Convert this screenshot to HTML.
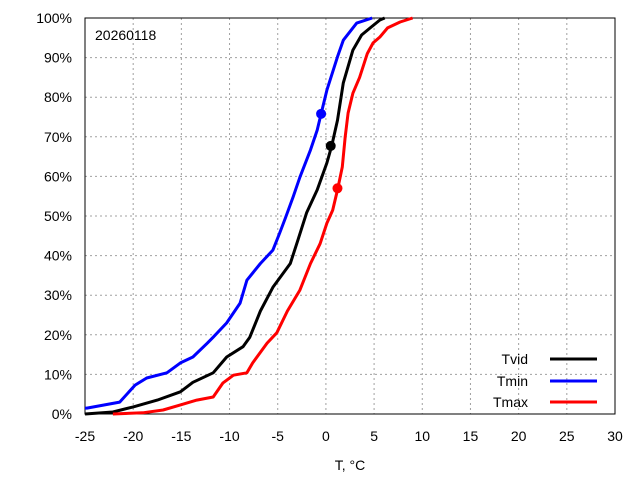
<!DOCTYPE html>
<html><head><meta charset="utf-8"><style>body{margin:0;background:#fff}svg{display:block;font-family:"Liberation Sans",sans-serif}</style></head>
<body>
<svg id="chart" width="640" height="480">
<rect width="640" height="480" fill="#fff"/>
<g id="grid"></g><g id="axes"></g><g id="series"></g>
<text x="95" y="40" font-size="14" fill="#000">20260118</text>
<text x="350" y="470" font-size="14" text-anchor="middle">T, °C</text>
<g>
<text x="528" y="364" font-size="14" text-anchor="end">Tvid</text>
<line x1="550" y1="359" x2="597" y2="359" stroke="#000" stroke-width="3"/>
<text x="528" y="386" font-size="14" text-anchor="end">Tmin</text>
<line x1="550" y1="381" x2="597" y2="381" stroke="#0000ff" stroke-width="3"/>
<text x="528" y="407" font-size="14" text-anchor="end">Tmax</text>
<line x1="550" y1="402" x2="597" y2="402" stroke="#ff0000" stroke-width="3"/>
</g>
</svg>
<script>
const xTicks=[-25,-20,-15,-10,-5,0,5,10,15,20,25,30];
const yTicks=[0,10,20,30,40,50,60,70,80,90,100];
const tminT=[-25,-24.8,-21.4,-19.8,-18.6,-16.5,-15.1,-13.8,-12.3,-11.7,-10.3,-8.9,-8.2,-6.8,-5.5,-4.8,-4.2,-3.4,-2.7,-1.6,-0.9,-0.5,0.1,1.2,1.8,3.2,4.8];
const tminP=[1.5,1.5,3,7.3,9.1,10.4,12.9,14.4,17.9,19.4,23,28,33.8,38,41.4,45.7,49.5,54.8,59.8,66.7,71.7,75.8,81.8,90.2,94.4,98.7,100];
const tvidT=[-25,-22.1,-20,-17.5,-15.1,-13.8,-11.7,-10.3,-8.6,-7.9,-6.8,-5.5,-3.7,-2.9,-2.0,-0.9,0.1,0.6,1.2,1.8,2.2,2.8,3.7,4.6,5.6,6.1];
const tvidP=[0,0.5,1.8,3.5,5.6,8,10.4,14.4,17,19.4,26,32,38,44,50.8,56.6,63.4,67.7,74.2,83.6,86.9,91.9,95.7,97.5,99.5,100];
const tmaxT=[-22.1,-19,-16.9,-15.1,-13.4,-11.7,-10.7,-9.6,-8.2,-7.6,-6.1,-5.1,-4.0,-2.7,-1.6,-0.6,0.1,0.7,1.2,1.7,2.0,2.3,2.8,3.5,4.3,4.9,5.6,6.4,7.7,9.0];
const tmaxP=[0,0.3,1,2.3,3.5,4.3,7.8,9.8,10.4,12.9,17.9,20.5,26,31.3,38,43,48.2,51.5,56.6,62.4,70,76,81,85,91,93.7,95.2,97.5,99,100];
const markT=[0.5,-0.5,1.2];
const markP=[67.7,75.8,57];
const L=85,R=615,T=18,B=414;
const sx=v=>L+(v+25)*(R-L)/55, sy=p=>B-p*(B-T)/100;
const NS="http://www.w3.org/2000/svg";
function mk(tag,at,parent){const e=document.createElementNS(NS,tag);for(const k in at)e.setAttribute(k,at[k]);document.getElementById(parent).appendChild(e);return e;}
xTicks.forEach(v=>{const x=sx(v);
 if(v>-25&&v<30){const g=mk('line',{x1:x,y1:T,x2:x,y2:B,stroke:'#a0a0a0','stroke-width':1,'stroke-dasharray':'2,3'},'grid');
 
 }
 const t=mk('text',{x:x,y:441,'font-size':14,'text-anchor':'middle'},'axes');t.textContent=v;
 
 
});
yTicks.forEach(p=>{const y=sy(p);
 if(p>0&&p<100){const g=mk('line',{x1:L,y1:y,x2:R,y2:y,stroke:'#a0a0a0','stroke-width':1,'stroke-dasharray':'2,3'},'grid');
 
 }
 const t=mk('text',{x:72,y:y+5,'font-size':14,'text-anchor':'end'},'axes');t.textContent=p+'%';
 
 
});
const fr=mk('rect',{x:L,y:T,width:R-L,height:B-T,fill:'none',stroke:'#000','stroke-width':1},'axes');


const ser=[[tvidT,tvidP,'#000','tvid'],[tminT,tminP,'#0000ff','tmin'],[tmaxT,tmaxP,'#ff0000','tmax']];
ser.forEach((s,i)=>{
 const pts=s[0].map((t,j)=>sx(t).toFixed(1)+','+sy(s[1][j]).toFixed(1)).join(' ');
 const pl=mk('polyline',{points:pts,fill:'none',stroke:s[2],'stroke-width':3,'stroke-linejoin':'round'},'series');
 
 
 const c=mk('circle',{cx:sx(markT[i]),cy:sy(markP[i]),r:5,fill:s[2]},'series');
 
 
});
</script>
</body></html>
